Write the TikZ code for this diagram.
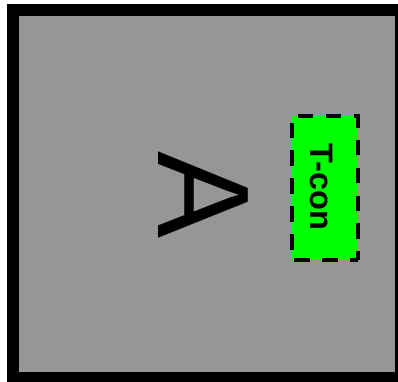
\documentclass[tikz,border=0pt]{standalone}
\usepackage{fontspec}
\setmainfont{Liberation Sans}
\usepackage{tikz}
\usetikzlibrary{positioning}
\definecolor{panelgray}{RGB}{150,150,150}
\tikzset{
    panel/.style={draw=black, line width=12pt, fill=panelgray},
    tconbox/.style={draw=black, line width=4pt, fill=green, dash pattern=on 15.7pt off 12.2pt, dash phase=7pt,
        minimum width=144pt, minimum height=65.7pt, inner sep=0pt, outer sep=0pt, rotate=-90, text height=29.7pt, text depth=0pt,
        font=\fontsize{32.5pt}{32.5pt}\selectfont\bfseries},
    panelmark/.style={rotate=-90, inner sep=0pt, font=\fontsize{130.5pt}{130.5pt}\selectfont}
}
\begin{document}
\begin{tikzpicture}[x=1pt,y=-1pt]

    \useasboundingbox (0,0) rectangle (398,381);
    \clip (0,0) rectangle (398,381);

    \draw[panel] (12.5,10) rectangle (401,378);

    \node[panelmark] (mark) at (203,195.5) {A};
    \node[tconbox] (tcon) at (324.85,188) {T-con\hspace*{1.5pt}};

\end{tikzpicture}
\end{document}
